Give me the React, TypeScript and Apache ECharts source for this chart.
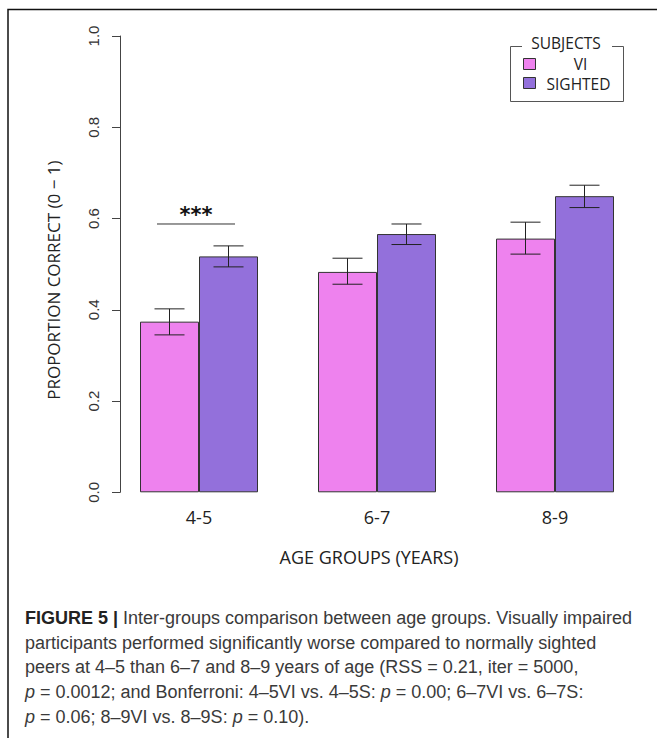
import React, { useEffect, useRef } from "react";
import * as echarts from "echarts";

const categories = ["4-5", "6-7", "8-9"];
const seriesNames = ["VI", "SIGHTED"];
const viValues = [0.374, 0.483, 0.556];
const sightedValues = [0.517, 0.566, 0.649];
const viLow = [0.345, 0.456, 0.522];
const viHigh = [0.402, 0.513, 0.592];
const sightedLow = [0.494, 0.543, 0.624];
const sightedHigh = [0.540, 0.588, 0.673];
const yTicks = [0, 0.2, 0.4, 0.6, 0.8, 1.0];
const significance = [{ category: 0, value: 0.588, label: "***" }];
const yAxisTitle = "PROPORTION CORRECT (0 \u2212 1)";
const xAxisTitle = "AGE GROUPS (YEARS)";
const legendTitle = "SUBJECTS";
const captionLines = [
  "{b|FIGURE 5 |} Inter-groups comparison between age groups. Visually impaired",
  "participants performed significantly worse compared to normally sighted",
  "peers at 4\u20135 than 6\u20137 and 8\u20139 years of age (RSS = 0.21, iter = 5000,",
  "{i|p} = 0.0012; and Bonferroni: 4\u20135VI vs. 4\u20135S: {i|p} = 0.00; 6\u20137VI vs. 6\u20137S:",
  "{i|p} = 0.06; 8\u20139VI vs. 8\u20139S: {i|p} = 0.10).",
];

const VI_COLOR = "#EE82EE";
const S_COLOR = "#9370DB";
const FONT = "'Open Sans', sans-serif";
const NUM_FONT = "'Liberation Sans', Arial, sans-serif";

export default function App() {
  const ref = useRef<HTMLDivElement>(null);
  useEffect(() => {
    if (!ref.current) return;
    const chart = echarts.init(ref.current, undefined, { renderer: "svg" });
    const HALF = 29.5;
    const CAP = 15;
    const errData: any[] = [];
    categories.forEach((_, i) => {
      errData.push([i, viLow[i], viHigh[i], -1]);
      errData.push([i, sightedLow[i], sightedHigh[i], 1]);
    });
    const option: any = {
      animation: false,
      backgroundColor: "#ffffff",
      grid: [
        { left: 110, right: 13, top: 36, bottom: 245.7 },
        { left: 120, width: 1, top: 36, bottom: 245.7 },
      ],
      xAxis: [
        {
          type: "category",
          gridIndex: 0,
          data: categories,
          axisLine: { show: false },
          axisTick: { show: false },
          axisLabel: { fontFamily: FONT, fontSize: 18, color: "#222", margin: 16 },
          name: xAxisTitle,
          nameLocation: "middle",
          nameGap: 56,
          nameTextStyle: { fontFamily: FONT, fontSize: 18, color: "#222", padding: [0, 16, 0, 0] },
        },
        { type: "value", gridIndex: 1, show: false, min: 0, max: 1 },
      ],
      yAxis: [
        { type: "value", gridIndex: 0, min: 0, max: 1, show: false },
        {
          type: "value",
          gridIndex: 1,
          min: 0,
          max: 1,
          interval: 0.2,
          axisLine: { show: true, lineStyle: { color: "#444", width: 1 } },
          axisTick: { show: true, length: 8, lineStyle: { color: "#444", width: 1 } },
          splitLine: { show: false },
          axisLabel: {
            rotate: 90,
            margin: 19,
            fontFamily: NUM_FONT,
            fontSize: 15,
            color: "#333",
            formatter: (v: number) => (yTicks.includes(Math.round(v * 10) / 10) ? v.toFixed(1) : ""),
          },
          name: yAxisTitle,
          nameLocation: "middle",
          nameGap: 58,
          nameRotate: 90,
          nameTextStyle: { fontFamily: FONT, fontSize: 17, color: "#222", padding: [0, 32, 0, 0] },
        },
      ],
      series: [
        {
          name: seriesNames[0],
          type: "bar",
          xAxisIndex: 0,
          yAxisIndex: 0,
          data: viValues,
          barWidth: 59,
          barGap: "0%",
          itemStyle: { color: VI_COLOR, borderColor: "#333", borderWidth: 1 },
        },
        {
          name: seriesNames[1],
          type: "bar",
          xAxisIndex: 0,
          yAxisIndex: 0,
          data: sightedValues,
          barWidth: 59,
          barGap: "0%",
          itemStyle: { color: S_COLOR, borderColor: "#333", borderWidth: 1 },
        },
        {
          type: "custom",
          xAxisIndex: 0,
          yAxisIndex: 0,
          data: errData,
          z: 10,
          renderItem: (params: any, api: any) => {
            const c = api.value(0);
            const off = api.value(3) * HALF;
            const lo = api.coord([c, api.value(1)]);
            const hi = api.coord([c, api.value(2)]);
            const x = lo[0] + off;
            const st = { stroke: "#222", lineWidth: 1 };
            return {
              type: "group",
              children: [
                { type: "line", shape: { x1: x, y1: lo[1], x2: x, y2: hi[1] }, style: st },
                { type: "line", shape: { x1: x - CAP, y1: lo[1], x2: x + CAP, y2: lo[1] }, style: st },
                { type: "line", shape: { x1: x - CAP, y1: hi[1], x2: x + CAP, y2: hi[1] }, style: st },
              ],
            };
          },
        },
        {
          type: "custom",
          xAxisIndex: 0,
          yAxisIndex: 0,
          data: significance.map((s) => [s.category, s.value, s.label]),
          z: 10,
          renderItem: (params: any, api: any) => {
            const p = api.coord([api.value(0), api.value(1)]);
            const x = p[0] - 3;
            return {
              type: "group",
              children: [
                { type: "line", shape: { x1: x - 39, y1: p[1], x2: x + 39, y2: p[1] }, style: { stroke: "#333", lineWidth: 1 } },
                {
                  type: "text",
                  x: x,
                  y: p[1] - 9,
                  style: { text: significance[params.dataIndex].label, fontFamily: "'DejaVu Sans', sans-serif", fontSize: 21, fontWeight: "bold", fill: "#111", align: "center", verticalAlign: "middle" },
                },
              ],
            };
          },
        },
      ],
      graphic: [
        { type: "polyline", shape: { points: [[8, 738], [8, 9.5], [657, 9.5]] }, style: { stroke: "#111", lineWidth: 1.5, fill: null } },
        { type: "polyline", shape: { points: [[522, 46.5], [510.5, 46.5], [510.5, 101.5], [623.5, 101.5], [623.5, 46.5], [612, 46.5]] }, style: { stroke: "#555", lineWidth: 1, fill: null } },
        { type: "text", x: 566, y: 42.5, style: { text: legendTitle, fontFamily: FONT, fontSize: 15.5, fill: "#222", align: "center", verticalAlign: "middle" } },
        { type: "rect", shape: { x: 523.5, y: 58.5, width: 12, height: 11 }, style: { fill: VI_COLOR, stroke: "#333", lineWidth: 1 } },
        { type: "rect", shape: { x: 523.5, y: 77.5, width: 12, height: 11 }, style: { fill: S_COLOR, stroke: "#333", lineWidth: 1 } },
        { type: "text", x: 580.5, y: 64, style: { text: seriesNames[0], fontFamily: FONT, fontSize: 15.5, fill: "#222", align: "center", verticalAlign: "middle" } },
        { type: "text", x: 578.5, y: 84, style: { text: seriesNames[1], fontFamily: FONT, fontSize: 15.5, fill: "#222", align: "center", verticalAlign: "middle" } },
        ...captionLines.map((t, i) => ({
          type: "text",
          x: 25,
          y: 617.7 + i * 24.8,
          style: {
            text: t,
            fontFamily: NUM_FONT,
            fontSize: 18,
            fill: "#3a3a3a",
            verticalAlign: "middle",
            rich: {
              b: { fontFamily: NUM_FONT, fontSize: 18, fontWeight: "bold", fill: "#222" },
              i: { fontFamily: NUM_FONT, fontSize: 18, fontStyle: "italic", fill: "#3a3a3a" },
            },
          },
        })),
      ],
    };
    chart.setOption(option);
    return () => chart.dispose();
  }, []);
  return <div ref={ref} style={{ position: "fixed", left: 0, top: 0, width: 657, height: 738 }} />;
}
